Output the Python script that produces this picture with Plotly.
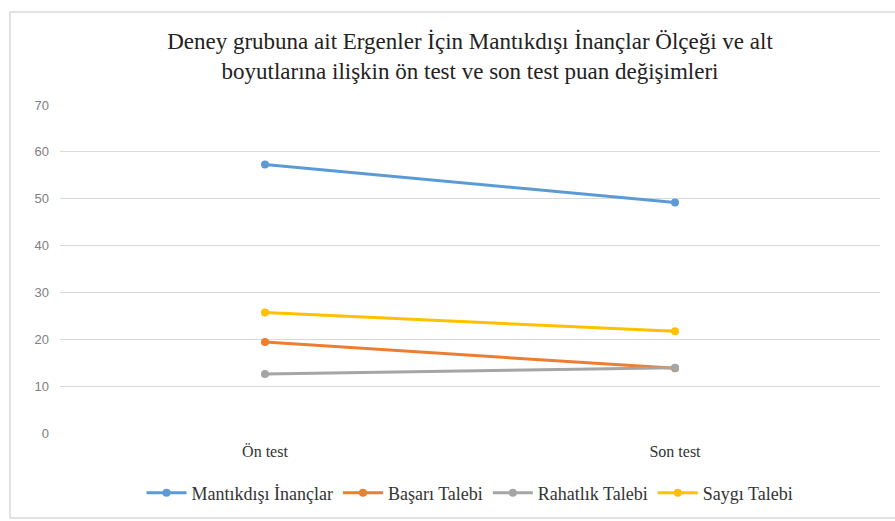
import plotly.graph_objects as go

# Test occasions on the x axis
occasions = ["Ön test", "Son test"]

# Mean scores per scale / subscale
mantikdisi = [57.3, 49.2]
basari = [19.4, 13.8]
rahatlik = [12.6, 13.9]
saygi = [25.7, 21.7]

series_names = ["Mantıkdışı İnançlar", "Başarı Talebi", "Rahatlık Talebi", "Saygı Talebi"]
series_values = [mantikdisi, basari, rahatlik, saygi]
series_colors = ["#5B9BD5", "#ED7D31", "#A5A5A5", "#FFC000"]

y_ticks = [0, 10, 20, 30, 40, 50, 60, 70]

title_text = ("Deney grubuna ait Ergenler İçin Mantıkdışı İnançlar Ölçeği ve alt<br>"
              "boyutlarına ilişkin ön test ve son test puan değişimleri")

serif = "Liberation Serif, Times New Roman, serif"

fig = go.Figure()
for name, vals, col in zip(series_names, series_values, series_colors):
    fig.add_trace(go.Scatter(
        x=occasions, y=vals, name=name, mode="lines+markers",
        line=dict(color=col, width=3),
        marker=dict(color=col, size=8),
    ))

fig.update_layout(
    width=895, height=521,
    margin=dict(l=60, r=15, t=105, b=88, autoexpand=False),
    paper_bgcolor="white", plot_bgcolor="white",
    title=dict(text=title_text, x=0.5, xanchor="center", xref="paper",
               y=0.906, yanchor="middle",
               font=dict(family=serif, size=23, color="#222222")),
    xaxis=dict(type="category", range=[-0.5, 1.5], showgrid=False,
               showline=False, ticks="", ticklabelstandoff=7, automargin=False,
               tickfont=dict(family=serif, size=16, color="#333333")),
    yaxis=dict(range=[0, 70], tickvals=y_ticks, showgrid=True,
               gridcolor="#D9D9D9", gridwidth=1, zeroline=False,
               showline=False, ticks="", ticklabelstandoff=10, automargin=False,
               tickfont=dict(family="Liberation Sans, Arial, sans-serif",
                             size=13, color="#808080")),
    legend=dict(orientation="h", x=0.5, xanchor="center", y=-0.183,
                yanchor="middle", bgcolor="rgba(0,0,0,0)",
                font=dict(family=serif, size=18, color="#333333"),
                itemwidth=40, tracegroupgap=0),
    showlegend=True,
    shapes=[
        # chart frame
        dict(type="rect", xref="paper", yref="paper",
             x0=-0.061, x1=1.03, y0=-0.259, y1=1.2835,
             line=dict(color="#D9D9D9", width=1.5), fillcolor="rgba(0,0,0,0)",
             layer="below"),
    ],
)

fig.write_html("out.html")
